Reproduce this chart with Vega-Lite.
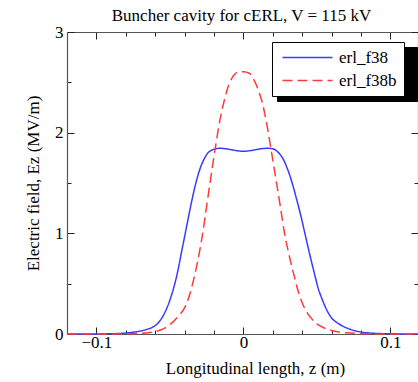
{
  "$schema": "https://vega.github.io/schema/vega-lite/v6.json",
  "width": 351,
  "height": 302,
  "autosize": {"type": "none"},
  "padding": {"left": 67, "top": 32, "right": 0, "bottom": 48},
  "background": "white",
  "config": {
    "view": {"stroke": null},
    "font": "Liberation Serif, Times New Roman, DejaVu Serif, serif",
    "axis": {
      "labelFont": "Liberation Serif, Times New Roman, DejaVu Serif, serif", "labelFontSize": 17, "labelColor": "black",
      "titleFont": "Liberation Serif, Times New Roman, DejaVu Serif, serif", "titleFontSize": 17, "titleFontWeight": "normal", "titleColor": "black",
      "domainColor": "#555555", "domainWidth": 1.2, "tickColor": "#222222", "tickWidth": 1, "grid": false
    }
  },
  "data": {"values": [
    {"z": -0.12, "E": 0, "series": "erl_f38"},
    {"z": -0.1, "E": 0.0005, "series": "erl_f38"},
    {"z": -0.09, "E": 0.002, "series": "erl_f38"},
    {"z": -0.085, "E": 0.005, "series": "erl_f38"},
    {"z": -0.08, "E": 0.01, "series": "erl_f38"},
    {"z": -0.075, "E": 0.018, "series": "erl_f38"},
    {"z": -0.07, "E": 0.03, "series": "erl_f38"},
    {"z": -0.066, "E": 0.045, "series": "erl_f38"},
    {"z": -0.062, "E": 0.065, "series": "erl_f38"},
    {"z": -0.058, "E": 0.11, "series": "erl_f38"},
    {"z": -0.055, "E": 0.17, "series": "erl_f38"},
    {"z": -0.052, "E": 0.26, "series": "erl_f38"},
    {"z": -0.049, "E": 0.38, "series": "erl_f38"},
    {"z": -0.047, "E": 0.48, "series": "erl_f38"},
    {"z": -0.045, "E": 0.6, "series": "erl_f38"},
    {"z": -0.042, "E": 0.82, "series": "erl_f38"},
    {"z": -0.039, "E": 1.04, "series": "erl_f38"},
    {"z": -0.036, "E": 1.26, "series": "erl_f38"},
    {"z": -0.033, "E": 1.46, "series": "erl_f38"},
    {"z": -0.03, "E": 1.62, "series": "erl_f38"},
    {"z": -0.027, "E": 1.73, "series": "erl_f38"},
    {"z": -0.024, "E": 1.8, "series": "erl_f38"},
    {"z": -0.02, "E": 1.835, "series": "erl_f38"},
    {"z": -0.016, "E": 1.845, "series": "erl_f38"},
    {"z": -0.012, "E": 1.84, "series": "erl_f38"},
    {"z": -0.008, "E": 1.83, "series": "erl_f38"},
    {"z": -0.004, "E": 1.82, "series": "erl_f38"},
    {"z": 0, "E": 1.815, "series": "erl_f38"},
    {"z": 0.004, "E": 1.82, "series": "erl_f38"},
    {"z": 0.008, "E": 1.83, "series": "erl_f38"},
    {"z": 0.012, "E": 1.84, "series": "erl_f38"},
    {"z": 0.016, "E": 1.845, "series": "erl_f38"},
    {"z": 0.02, "E": 1.84, "series": "erl_f38"},
    {"z": 0.024, "E": 1.8, "series": "erl_f38"},
    {"z": 0.027, "E": 1.74, "series": "erl_f38"},
    {"z": 0.03, "E": 1.64, "series": "erl_f38"},
    {"z": 0.033, "E": 1.51, "series": "erl_f38"},
    {"z": 0.036, "E": 1.35, "series": "erl_f38"},
    {"z": 0.039, "E": 1.18, "series": "erl_f38"},
    {"z": 0.042, "E": 0.99, "series": "erl_f38"},
    {"z": 0.045, "E": 0.8, "series": "erl_f38"},
    {"z": 0.048, "E": 0.62, "series": "erl_f38"},
    {"z": 0.051, "E": 0.45, "series": "erl_f38"},
    {"z": 0.054, "E": 0.33, "series": "erl_f38"},
    {"z": 0.057, "E": 0.23, "series": "erl_f38"},
    {"z": 0.06, "E": 0.16, "series": "erl_f38"},
    {"z": 0.064, "E": 0.11, "series": "erl_f38"},
    {"z": 0.068, "E": 0.075, "series": "erl_f38"},
    {"z": 0.072, "E": 0.05, "series": "erl_f38"},
    {"z": 0.076, "E": 0.032, "series": "erl_f38"},
    {"z": 0.08, "E": 0.02, "series": "erl_f38"},
    {"z": 0.085, "E": 0.011, "series": "erl_f38"},
    {"z": 0.09, "E": 0.006, "series": "erl_f38"},
    {"z": 0.1, "E": 0.002, "series": "erl_f38"},
    {"z": 0.12, "E": 0, "series": "erl_f38"},
    {"z": -0.12, "E": 0, "series": "erl_f38b"},
    {"z": -0.09, "E": 0.0003, "series": "erl_f38b"},
    {"z": -0.08, "E": 0.002, "series": "erl_f38b"},
    {"z": -0.07, "E": 0.007, "series": "erl_f38b"},
    {"z": -0.065, "E": 0.012, "series": "erl_f38b"},
    {"z": -0.06, "E": 0.024, "series": "erl_f38b"},
    {"z": -0.056, "E": 0.042, "series": "erl_f38b"},
    {"z": -0.052, "E": 0.072, "series": "erl_f38b"},
    {"z": -0.048, "E": 0.118, "series": "erl_f38b"},
    {"z": -0.044, "E": 0.18, "series": "erl_f38b"},
    {"z": -0.04, "E": 0.26, "series": "erl_f38b"},
    {"z": -0.037, "E": 0.37, "series": "erl_f38b"},
    {"z": -0.034, "E": 0.53, "series": "erl_f38b"},
    {"z": -0.031, "E": 0.73, "series": "erl_f38b"},
    {"z": -0.028, "E": 0.97, "series": "erl_f38b"},
    {"z": -0.025, "E": 1.27, "series": "erl_f38b"},
    {"z": -0.022, "E": 1.57, "series": "erl_f38b"},
    {"z": -0.019, "E": 1.86, "series": "erl_f38b"},
    {"z": -0.016, "E": 2.12, "series": "erl_f38b"},
    {"z": -0.013, "E": 2.32, "series": "erl_f38b"},
    {"z": -0.01, "E": 2.47, "series": "erl_f38b"},
    {"z": -0.007, "E": 2.56, "series": "erl_f38b"},
    {"z": -0.004, "E": 2.6, "series": "erl_f38b"},
    {"z": 0, "E": 2.605, "series": "erl_f38b"},
    {"z": 0.004, "E": 2.59, "series": "erl_f38b"},
    {"z": 0.007, "E": 2.53, "series": "erl_f38b"},
    {"z": 0.01, "E": 2.43, "series": "erl_f38b"},
    {"z": 0.013, "E": 2.29, "series": "erl_f38b"},
    {"z": 0.016, "E": 2.08, "series": "erl_f38b"},
    {"z": 0.019, "E": 1.82, "series": "erl_f38b"},
    {"z": 0.022, "E": 1.55, "series": "erl_f38b"},
    {"z": 0.025, "E": 1.28, "series": "erl_f38b"},
    {"z": 0.028, "E": 1.0, "series": "erl_f38b"},
    {"z": 0.031, "E": 0.79, "series": "erl_f38b"},
    {"z": 0.034, "E": 0.61, "series": "erl_f38b"},
    {"z": 0.037, "E": 0.44, "series": "erl_f38b"},
    {"z": 0.04, "E": 0.31, "series": "erl_f38b"},
    {"z": 0.043, "E": 0.22, "series": "erl_f38b"},
    {"z": 0.046, "E": 0.16, "series": "erl_f38b"},
    {"z": 0.05, "E": 0.1, "series": "erl_f38b"},
    {"z": 0.055, "E": 0.06, "series": "erl_f38b"},
    {"z": 0.06, "E": 0.035, "series": "erl_f38b"},
    {"z": 0.065, "E": 0.02, "series": "erl_f38b"},
    {"z": 0.07, "E": 0.012, "series": "erl_f38b"},
    {"z": 0.08, "E": 0.004, "series": "erl_f38b"},
    {"z": 0.09, "E": 0.001, "series": "erl_f38b"},
    {"z": 0.12, "E": 0, "series": "erl_f38b"}
  ]},
  "layer": [
    {
      "mark": {"type": "line", "interpolate": "monotone", "opacity": 0},
      "encoding": {
        "x": {"field": "z", "type": "quantitative",
          "scale": {"domain": [-0.12, 0.1188], "nice": false, "zero": false},
          "axis": {"orient": "top", "values": [-0.1, -0.08, -0.06, -0.04, -0.02, 0, 0.02, 0.04, 0.06, 0.08, 0.1],
            "labels": false,
            "title": "Buncher cavity for cERL, V = 115 kV",
            "titleX": 174, "titleY": -12, "titleAlign": "center", "titleBaseline": "alphabetic", "titleAnchor": null,
            "tickSize": {"condition": {"test": "abs(datum.value*10-round(datum.value*10))<1e-6", "value": -7}, "value": -4}}},
        "y": {"field": "E", "type": "quantitative",
          "scale": {"domain": [0, 3], "nice": false},
          "axis": {"orient": "right", "values": [0, 0.5, 1, 1.5, 2, 2.5, 3],
            "labels": false, "title": null,
            "tickSize": {"condition": {"test": "abs(datum.value-round(datum.value))<1e-6", "value": -7}, "value": -4}}},
        "color": {"field": "series", "type": "nominal",
          "scale": {"domain": ["erl_f38", "erl_f38b"], "range": ["#3a3aff", "#ff3a3a"]},
          "legend": {"orient": "none", "legendX": 210, "legendY": 15, "title": null,
            "fillColor": "black", "strokeColor": "black", "padding": 7,
            "symbolType": "M-5,0H5", "symbolSize": 100, "symbolOffset": 20, "symbolStrokeWidth": 1.5,
            "labelFont": "Liberation Serif, Times New Roman, DejaVu Serif, serif", "labelFontSize": 17, "labelColor": "black",
            "labelOffset": 89, "rowPadding": 5, "zindex": 1,
            "labelExpr": "'\u00a0\u00a0'"}},
        "strokeDash": {"field": "series", "type": "nominal",
          "scale": {"domain": ["erl_f38", "erl_f38b"], "range": [[1, 0], [10, 5]]},
          "legend": {"orient": "none", "legendX": 210, "legendY": 15, "title": null,
            "fillColor": "black", "strokeColor": "black", "padding": 7,
            "symbolType": "M-5,0H5", "symbolSize": 100, "symbolOffset": 20, "symbolStrokeWidth": 1.5,
            "labelFont": "Liberation Serif, Times New Roman, DejaVu Serif, serif", "labelFontSize": 17, "labelColor": "black",
            "labelOffset": 89, "rowPadding": 5, "zindex": 1,
            "labelExpr": "'\u00a0\u00a0'"}}
      }
    },
    {
      "mark": {"type": "line", "interpolate": "monotone", "strokeWidth": 1.5},
      "encoding": {
        "x": {"field": "z", "type": "quantitative",
          "axis": {"orient": "bottom", "values": [-0.1, -0.08, -0.06, -0.04, -0.02, 0, 0.02, 0.04, 0.06, 0.08, 0.1],
            "format": "~g",
            "labelExpr": "abs(datum.value*10-round(datum.value*10))<1e-6 ? datum.label : ''",
            "tickSize": {"condition": {"test": "abs(datum.value*10-round(datum.value*10))<1e-6", "value": -7}, "value": -4},
            "labelPadding": 7, "labelFlush": false,
            "title": "Longitudinal length, z (m)", "titleX": 188, "titlePadding": 10}},
        "y": {"field": "E", "type": "quantitative",
          "axis": {"orient": "left", "values": [0, 0.5, 1, 1.5, 2, 2.5, 3],
            "format": "~g",
            "labelExpr": "abs(datum.value-round(datum.value))<1e-6 ? datum.label : ''",
            "tickSize": {"condition": {"test": "abs(datum.value-round(datum.value))<1e-6", "value": -7}, "value": -4},
            "labelPadding": 11, "labelFlush": false,
            "title": "Electric field, Ez (MV/m)", "titlePadding": 12}},
        "color": {"field": "series", "type": "nominal",
          "legend": {"orient": "none", "legendX": 205, "legendY": 10, "title": null,
            "fillColor": "white", "strokeColor": "black", "padding": 7,
            "symbolType": "M-5,0H5", "symbolSize": 100, "symbolOffset": 20, "symbolStrokeWidth": 1.5,
            "labelFont": "Liberation Serif, Times New Roman, DejaVu Serif, serif", "labelFontSize": 17, "labelColor": "black",
            "labelOffset": 23, "rowPadding": 5, "zindex": 2,
            "labelExpr": "datum.label + '\u00a0\u00a0'"}},
        "strokeDash": {"field": "series", "type": "nominal",
          "legend": {"orient": "none", "legendX": 205, "legendY": 10, "title": null,
            "fillColor": "white", "strokeColor": "black", "padding": 7,
            "symbolType": "M-5,0H5", "symbolSize": 100, "symbolOffset": 20, "symbolStrokeWidth": 1.5,
            "labelFont": "Liberation Serif, Times New Roman, DejaVu Serif, serif", "labelFontSize": 17, "labelColor": "black",
            "labelOffset": 23, "rowPadding": 5, "zindex": 2,
            "labelExpr": "datum.label + '\u00a0\u00a0'"}}
      }
    }
  ],
  "resolve": {"axis": {"x": "independent", "y": "independent"}, "legend": {"color": "independent", "strokeDash": "independent"}}
}
